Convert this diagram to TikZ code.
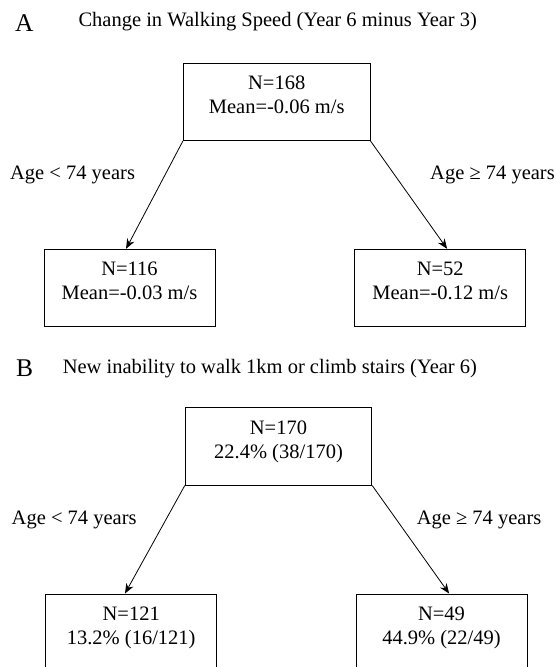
\documentclass[tikz,border=0pt]{standalone}
\usepackage{fontspec}
\setmainfont{Liberation Serif}
\usetikzlibrary{arrows.meta,positioning}

\begin{document}
\begin{tikzpicture}[
  x=1pt, y=1pt,
  font=\fontsize{20.5}{24}\selectfont,
  node distance=108pt,
  caixa/.style={draw, line width=0.9pt, align=center, inner sep=0pt,
               minimum width=171pt, minimum height=77.3pt},
  raiz/.style={caixa, minimum width=186.5pt},
  painel/.style={anchor=base west, font=\fontsize{25.5}{30}\selectfont},
  titulo/.style={anchor=base west},
  ramo/.style={inner sep=0pt},
  arr/.style={-{Stealth[length=10pt, width=8pt]}, line width=0.8pt}
]
\useasboundingbox (0,0) rectangle (554,-667);

% painel A
\node[painel] (pa) at (11.7,-31.7) {A};
\node[titulo] (ta) at (75,-26.7) {Change in Walking Speed (Year 6 minus Year 3)};
\node[raiz] (a) at (276.7,-101.7) {\smash{N=168}\\\smash{Mean=-0.06 m/s}};
\node[caixa, below=of a, xshift=-147.2pt] (b) {\smash{N=116}\\\smash{Mean=-0.03 m/s}};
\node[caixa, below=of a, xshift=163.5pt] (c) {\smash{N=52}\\\smash{Mean=-0.12 m/s}};
\draw[arr] (a.south west) -- node[ramo, pos=0.32, left=29.4pt] {Age < 74 years} (b.95);
\draw[arr] (a.south east) -- node[ramo, pos=0.32, right=34.9pt] {Age ≥ 74 years} (c.80.5);

% painel B
\node[painel] (pb) at (12.7,-376.7) {B};
\node[titulo] (tb) at (59.3,-373.3) {New inability to walk 1km or climb stairs (Year 6)};
\node[raiz] (d) at (278.5,-446.4) {\smash{N=170}\\\smash{22.4\% (38/170)}};
\node[caixa, below=of d, xshift=-147.3pt] (e) {\smash{N=121}\\\smash{13.2\% (16/121)}};
\node[caixa, below=of d, xshift=163pt] (f) {\smash{N=49}\\\smash{44.9\% (22/49)}};
\draw[arr] (d.south west) -- node[ramo, pos=0.32, left=28.7pt] {Age < 74 years} (e.99);
\draw[arr] (d.south east) -- node[ramo, pos=0.32, right=19.6pt] {Age ≥ 74 years} (f.79);
\end{tikzpicture}
\end{document}
